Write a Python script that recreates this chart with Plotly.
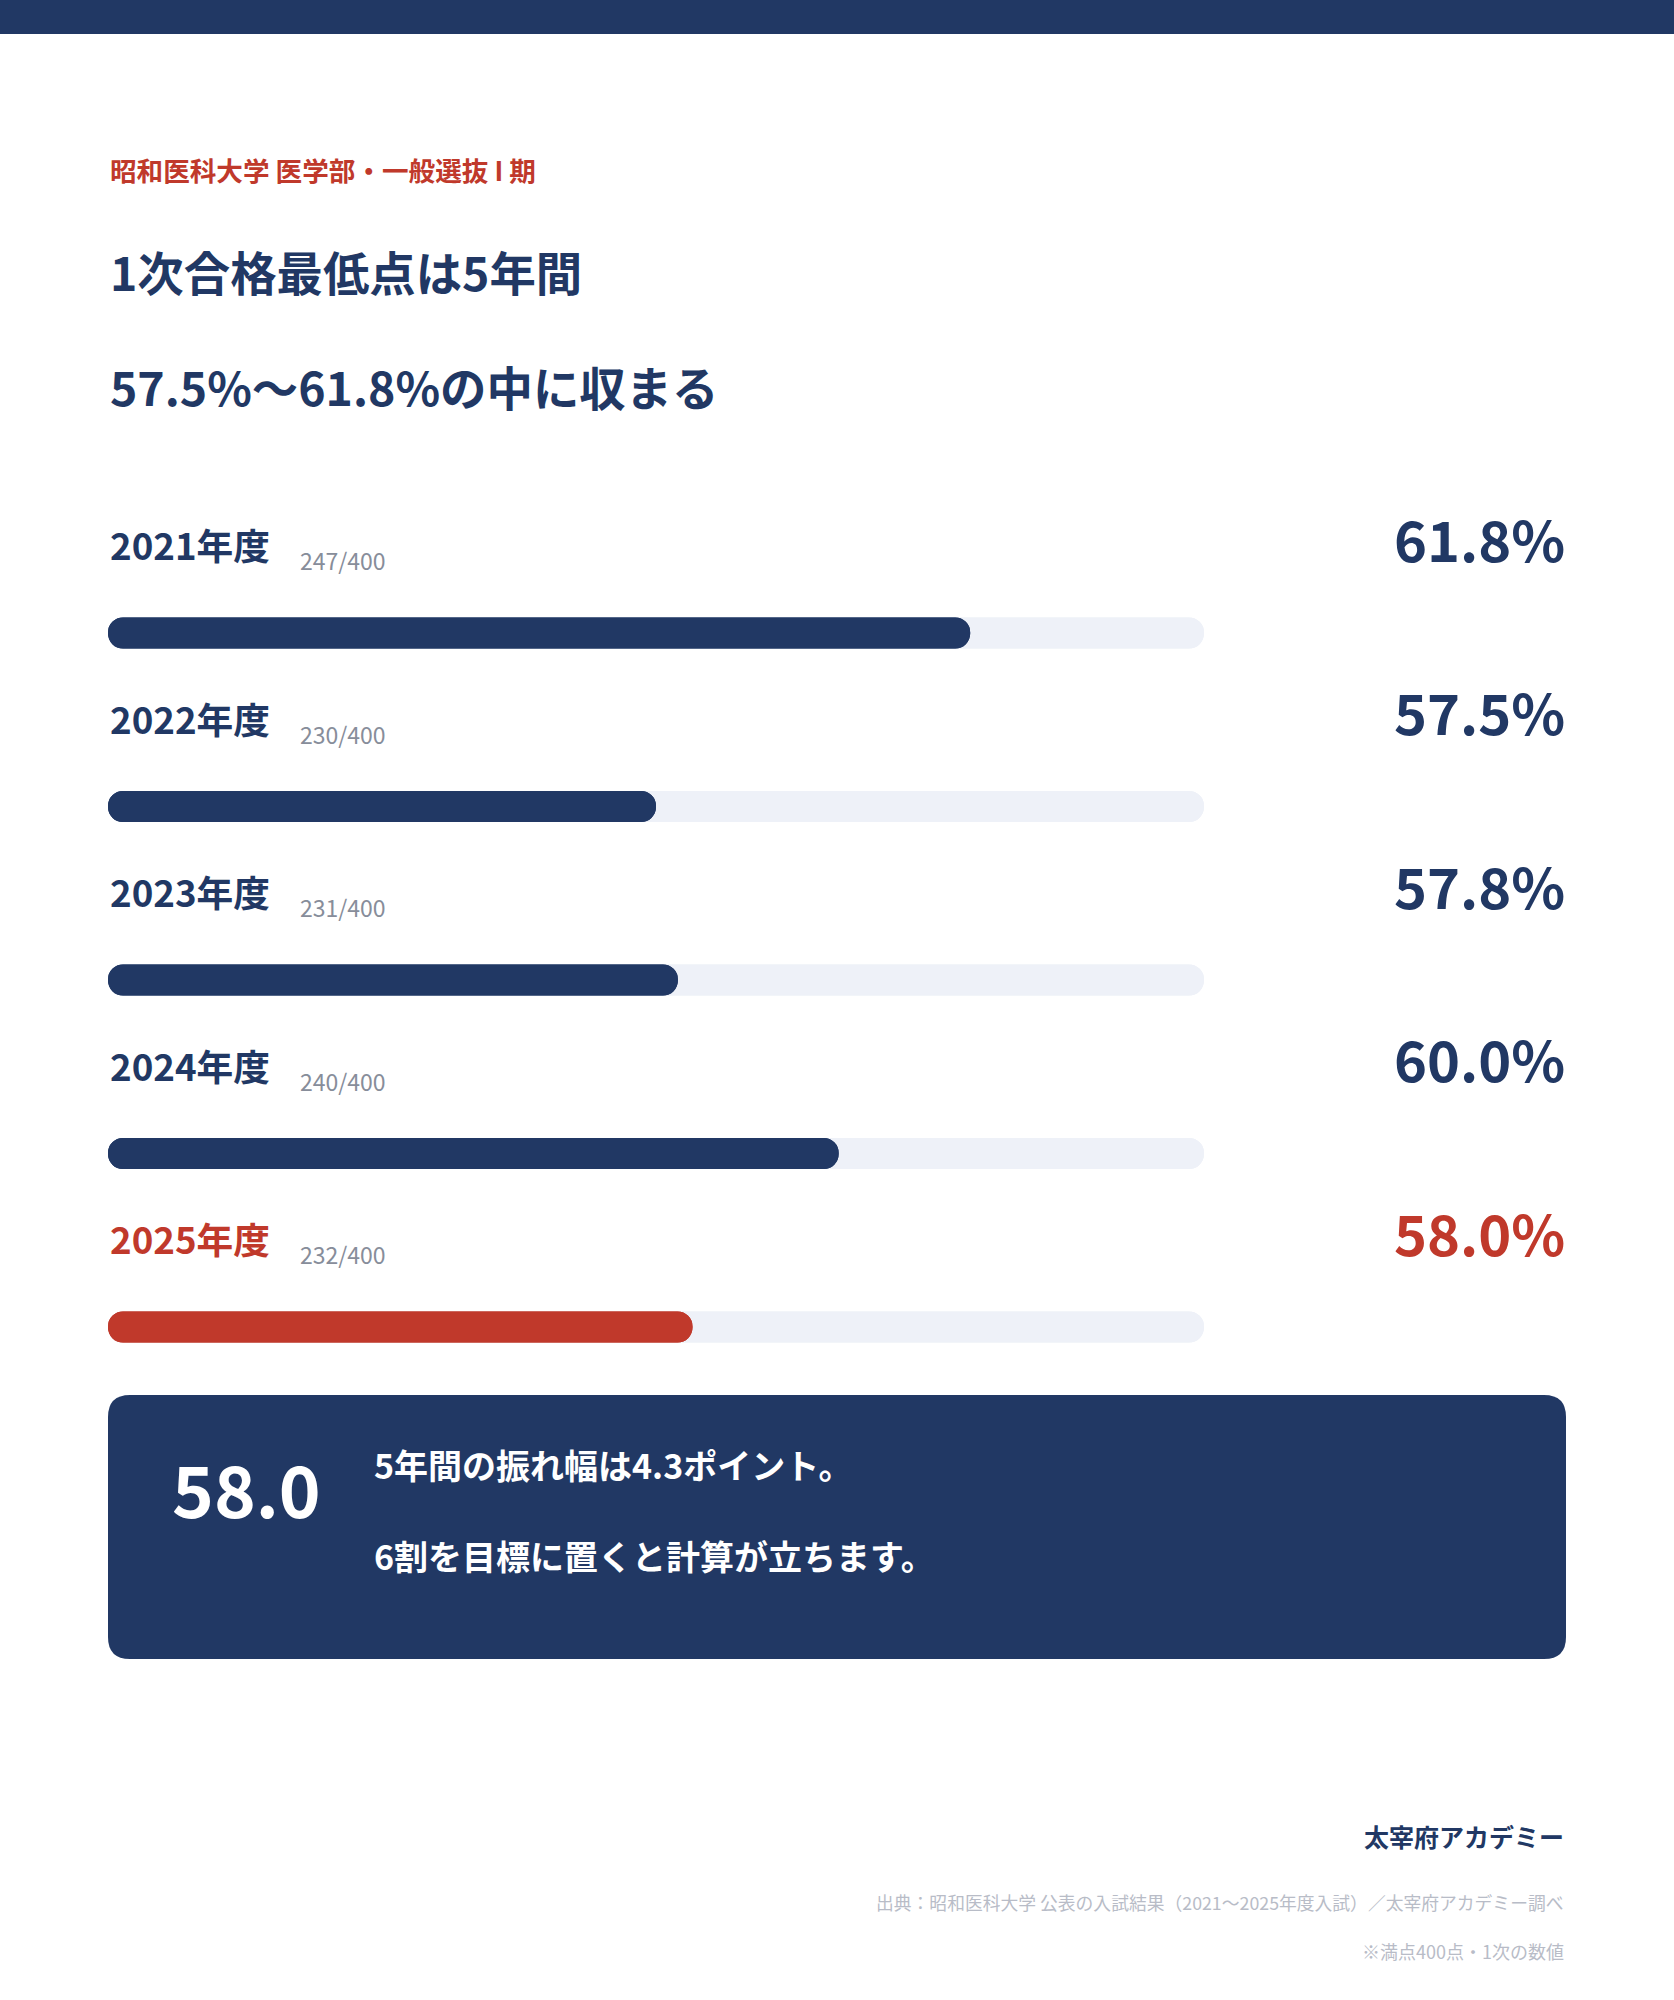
import plotly.graph_objects as go

# data
years = ["2021", "2022", "2023", "2024", "2025"]
percents = [61.8, 57.5, 57.8, 60.0, 58.0]
scores = [247, 230, 231, 240, 232]
full_score = 400
scale_min = 50
scale_max = 65

W, H = 1674, 2000
NAVY = "#213864"
RED = "#c0392b"
TRACK = "#eef1f8"
FONT = "Noto Sans CJK JP"


def px(x):
    return x / W


def py(y):
    return 1 - y / H


labels = [y + "年度" for y in years]
colors = [NAVY] * (len(years) - 1) + [RED]
n = len(years)

fig = go.Figure()

# background track: two overlapping bars so both ends get rounded
fig.add_trace(go.Bar(
    y=labels, x=[scale_max - scale_min] * n, base=[scale_min] * n,
    orientation="h", marker=dict(color=TRACK, cornerradius="50%", line_width=0),
    width=0.179, hoverinfo="skip",
))
fig.add_trace(go.Bar(
    y=labels, x=[scale_min - scale_max] * n, base=[scale_max] * n,
    orientation="h", marker=dict(color=TRACK, cornerradius="50%", line_width=0),
    width=0.179, hoverinfo="skip",
))
# value bars
fig.add_trace(go.Bar(
    y=labels, x=[p - scale_min for p in percents], base=[scale_min] * n,
    orientation="h", marker=dict(color=colors, cornerradius="50%", line_width=0),
    width=0.179, hoverinfo="skip",
))
fig.add_trace(go.Bar(
    y=labels, x=[scale_min - p for p in percents], base=percents,
    orientation="h", marker=dict(color=colors, cornerradius="50%", line_width=0),
    width=0.179, hoverinfo="skip",
))

annotations = []

# header texts
annotations.append(dict(
    x=px(108), y=py(170), xref="paper", yref="paper", xanchor="left", yanchor="middle",
    text="昭和医科大学 医学部・一般選抜 I 期", showarrow=False,
    font=dict(family=FONT, size=26.6, color=RED, weight="bold"),
))
annotations.append(dict(
    x=px(108), y=py(271), xref="paper", yref="paper", xanchor="left", yanchor="middle",
    text="1次合格最低点は5年間", showarrow=False,
    font=dict(family=FONT, size=46.4, color=NAVY, weight="bold"),
))
annotations.append(dict(
    x=px(108), y=py(385), xref="paper", yref="paper", xanchor="left", yanchor="middle",
    text=f"{min(percents):.1f}%～{max(percents):.1f}%の中に収まる", showarrow=False,
    font=dict(family=FONT, size=46.4, color=NAVY, weight="bold"),
))

# row labels
for i in range(n):
    c = colors[i]
    annotations.append(dict(
        x=px(108), y=i, xref="paper", yref="y", xanchor="left", yanchor="middle",
        yshift=89, text=labels[i], showarrow=False,
        font=dict(family=FONT, size=36.7, color=c, weight="bold"),
    ))
    annotations.append(dict(
        x=px(298), y=i, xref="paper", yref="y", xanchor="left", yanchor="middle",
        yshift=73, text=f"{scores[i]}/{full_score}", showarrow=False,
        font=dict(family=FONT, size=23, color="#878d9a"),
    ))
    annotations.append(dict(
        x=px(1567), y=i, xref="paper", yref="y", xanchor="right", yanchor="middle",
        yshift=96, text=f"{percents[i]:.1f}%", showarrow=False,
        font=dict(family=FONT, size=56, color=c, weight="bold"),
    ))

# summary box texts
spread = max(percents) - min(percents)
annotations.append(dict(
    x=px(170), y=py(1487), xref="paper", yref="paper", xanchor="left", yanchor="middle",
    text=f"{percents[-1]:.1f}", showarrow=False,
    font=dict(family=FONT, size=71, color="white", weight="bold"),
))
annotations.append(dict(
    x=px(372), y=py(1464), xref="paper", yref="paper", xanchor="left", yanchor="middle",
    text=f"5年間の振れ幅は{spread:.1f}ポイント。", showarrow=False,
    font=dict(family=FONT, size=34, color="white", weight="bold"),
))
annotations.append(dict(
    x=px(372), y=py(1555), xref="paper", yref="paper", xanchor="left", yanchor="middle",
    text="6割を目標に置くと計算が立ちます。", showarrow=False,
    font=dict(family=FONT, size=34, color="white", weight="bold"),
))

# footer
annotations.append(dict(
    x=px(1566), y=py(1836), xref="paper", yref="paper", xanchor="right", yanchor="middle",
    text="太宰府アカデミー", showarrow=False,
    font=dict(family=FONT, size=25, color=NAVY, weight="bold"),
))
annotations.append(dict(
    x=px(1566), y=py(1902), xref="paper", yref="paper", xanchor="right", yanchor="middle",
    text="出典：昭和医科大学 公表の入試結果（2021～2025年度入試）／太宰府アカデミー調べ",
    showarrow=False, font=dict(family=FONT, size=17.8, color="#b8bcc7"),
))
annotations.append(dict(
    x=px(1566), y=py(1951), xref="paper", yref="paper", xanchor="right", yanchor="middle",
    text="※満点400点・1次の数値", showarrow=False,
    font=dict(family=FONT, size=18, color="#b8bcc7"),
))

# rounded box path
bx0, bx1, by0, by1, r = 108, 1566, 1395, 1659, 22
box_path = (
    f"M {px(bx0 + r)} {py(by0)} L {px(bx1 - r)} {py(by0)} "
    f"Q {px(bx1)} {py(by0)} {px(bx1)} {py(by0 + r)} L {px(bx1)} {py(by1 - r)} "
    f"Q {px(bx1)} {py(by1)} {px(bx1 - r)} {py(by1)} L {px(bx0 + r)} {py(by1)} "
    f"Q {px(bx0)} {py(by1)} {px(bx0)} {py(by1 - r)} L {px(bx0)} {py(by0 + r)} "
    f"Q {px(bx0)} {py(by0)} {px(bx0 + r)} {py(by0)} Z"
)

shapes = [
    dict(type="rect", xref="paper", yref="paper", x0=0, x1=1, y0=py(34), y1=1,
         fillcolor=NAVY, line_width=0, layer="below"),
    dict(type="path", xref="paper", yref="paper", path=box_path,
         fillcolor=NAVY, line_width=0, layer="below"),
]

# y domain so that category centres land on the bar rows
row_step = 173.5
first_center = 633
top = first_center - row_step / 2
bottom = top + row_step * n

fig.update_layout(
    width=W, height=H,
    margin=dict(l=0, r=0, t=0, b=0),
    paper_bgcolor="white", plot_bgcolor="white",
    showlegend=False, barmode="overlay",
    xaxis=dict(domain=[px(108), px(1204)], range=[scale_min, scale_max],
               visible=False, fixedrange=True),
    yaxis=dict(domain=[py(bottom), py(top)], range=[n - 0.5, -0.5],
               type="category", visible=False, fixedrange=True),
    annotations=annotations,
    shapes=shapes,
)

# drop the default page margin so the figure sits flush in the window
fig.write_html("out.html", config={"displayModeBar": False},
               post_script="document.body.style.margin = '0';")
